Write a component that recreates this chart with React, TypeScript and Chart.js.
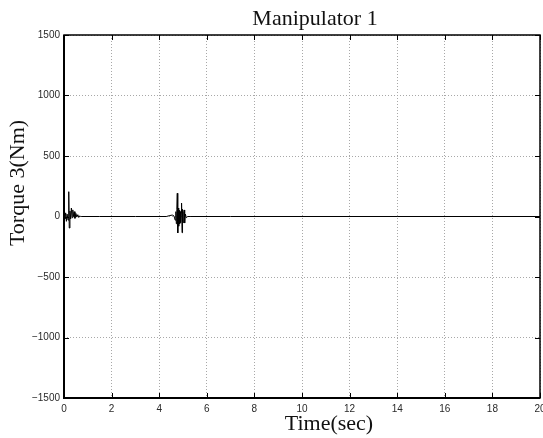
import React, { useEffect, useRef } from "react";
import { Chart, registerables } from "chart.js";

Chart.register(...registerables);

const titleText = "Manipulator 1";
const xTitleText = "Time(sec)";
const yTitleText = "Torque 3(Nm)";

const xTicks = [0, 2, 4, 6, 8, 10, 12, 14, 16, 18, 20];
const yTicks = [-1500, -1000, -500, 0, 500, 1000, 1500];

const timeValues = [
  0, 0.04, 0.07, 0.1, 0.13, 0.17, 0.2, 0.22, 0.25, 0.28, 0.31, 0.34, 0.37, 0.4,
  0.43, 0.46, 0.5, 0.54, 0.58, 0.62, 0.66, 0.7, 0.75, 1.5, 3, 4.3, 4.45, 4.55,
  4.62, 4.67, 4.7, 4.72, 4.74, 4.76, 4.78, 4.8, 4.82, 4.84, 4.86, 4.88, 4.9,
  4.92, 4.94, 4.96, 4.98, 5.0, 5.03, 5.05, 5.07, 5.1, 5.14, 5.2, 5.3, 7, 10, 14,
  20,
];
const torqueValues = [
  0, -20, 30, -40, 20, -30, 205, -95, 45, -20, 70, -10, 55, 0, 40, -15, 25, -5,
  15, -8, 5, 0, 0, 0, 0, 0, 8, 12, 5, -30, 40, -60, 60, 192, -136, 70, -80, 50,
  -60, 40, -50, 30, 111, -134, 60, -50, 40, 54, -54, 20, -10, 0, 0, 0, 0, 0, 0,
];

const fmt = (v: number) => (v < 0 ? "\u2212" + Math.abs(v) : String(v));

const framePlugin = {
  id: "frame",
  afterDraw(chart: any) {
    const { ctx, chartArea } = chart;
    const { left, right, top, bottom } = chartArea;
    const xs = chart.scales.x;
    const ys = chart.scales.y;
    ctx.save();
    ctx.setLineDash([]);
    ctx.strokeStyle = "#000";
    ctx.lineWidth = 1;
    const tl = 5;
    ctx.beginPath();
    xTicks.forEach((t) => {
      const px = Math.round(xs.getPixelForValue(t)) + 0.5;
      ctx.moveTo(px, bottom);
      ctx.lineTo(px, bottom - tl);
      ctx.moveTo(px, top);
      ctx.lineTo(px, top + tl);
    });
    yTicks.forEach((t) => {
      const py = Math.round(ys.getPixelForValue(t)) + 0.5;
      ctx.moveTo(left, py);
      ctx.lineTo(left + tl, py);
      ctx.moveTo(right, py);
      ctx.lineTo(right - tl, py);
    });
    ctx.stroke();
    ctx.lineWidth = 1.5;
    ctx.strokeRect(left, top, right - left, bottom - top);
    ctx.lineWidth = 2;
    ctx.beginPath();
    ctx.moveTo(left, top);
    ctx.lineTo(left, bottom);
    ctx.lineTo(right, bottom);
    ctx.stroke();

    ctx.fillStyle = "#111";
    ctx.font = '22px "Liberation Serif", "Times New Roman", serif';
    ctx.textAlign = "center";
    ctx.textBaseline = "alphabetic";
    ctx.fillText(titleText, 315, 25);
    ctx.fillText(xTitleText, 329, 430);
    ctx.translate(24, 183);
    ctx.rotate(-Math.PI / 2);
    ctx.fillText(yTitleText, 0, 0);
    ctx.restore();
  },
};

export default function App() {
  const ref = useRef<HTMLCanvasElement>(null);
  useEffect(() => {
    if (!ref.current) return;
    const chart = new Chart(ref.current, {
      type: "line",
      data: {
        datasets: [
          {
            data: timeValues.map((t, i) => ({ x: t, y: torqueValues[i] })),
            borderColor: "#000",
            borderWidth: 1,
            pointRadius: 0,
            tension: 0,
            fill: false,
          },
        ],
      },
      options: {
        animation: false,
        responsive: false,
        parsing: false as any,
        layout: { autoPadding: false, padding: { left: 0, right: 3, top: 35, bottom: 0 } } as any,
        plugins: { legend: { display: false }, tooltip: { enabled: false }, title: { display: false } },
        scales: {
          x: {
            type: "linear",
            min: 0,
            max: 20,
            afterFit: (s: any) => {
              s.height = 40;
              s.paddingLeft = 0;
              s.paddingRight = 0;
            },
            afterBuildTicks: (s: any) => {
              s.ticks = xTicks.map((v) => ({ value: v }));
            },
            grid: { color: "#a8a8a8", lineWidth: 1, drawTicks: false } as any,
            border: { display: false, dash: [1, 2] } as any,
            ticks: {
              padding: 5,
              color: "#2a2a2a",
              font: { family: '"Liberation Sans", Arial, sans-serif', size: 10 },
              maxRotation: 0,
              autoSkip: false,
              callback: (v: any) => fmt(Number(v)),
            },
          },
          y: {
            type: "linear",
            min: -1500,
            max: 1500,
            afterFit: (s: any) => {
              s.width = 64;
              s.paddingTop = 0;
              s.paddingBottom = 0;
            },
            afterBuildTicks: (s: any) => {
              s.ticks = yTicks.map((v) => ({ value: v }));
            },
            grid: { color: "#a8a8a8", lineWidth: 1, drawTicks: false } as any,
            border: { display: false, dash: [1, 2] } as any,
            ticks: {
              padding: 4,
              color: "#2a2a2a",
              font: { family: '"Liberation Sans", Arial, sans-serif', size: 10 },
              autoSkip: false,
              callback: (v: any) => fmt(Number(v)),
            },
          },
        },
      },
      plugins: [framePlugin],
    });
    return () => chart.destroy();
  }, []);
  return (
    <div style={{ position: "absolute", left: 0, top: 0, width: 543, height: 438, background: "#fff" }}>
      <canvas ref={ref} width={543} height={438} />
    </div>
  );
}
